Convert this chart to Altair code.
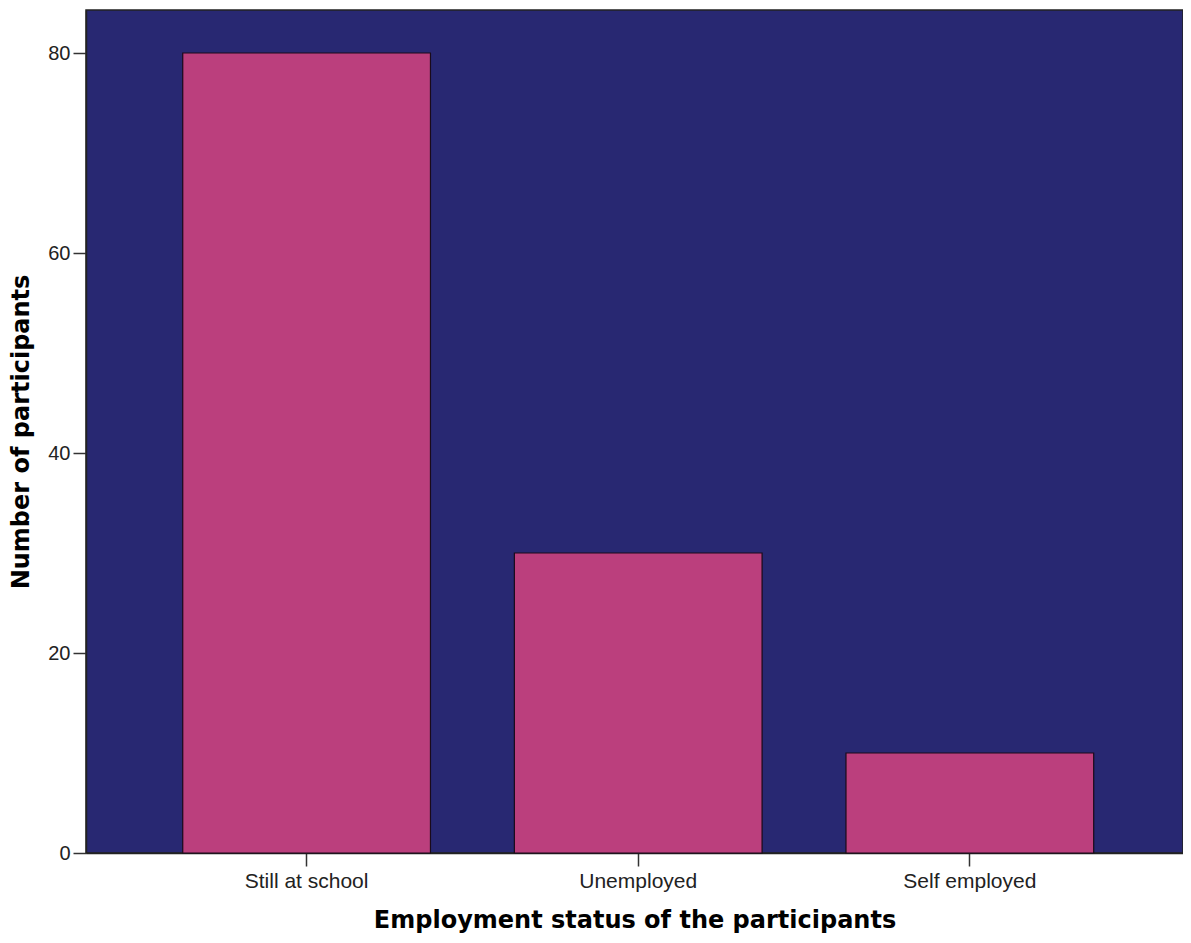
import altair as alt
import pandas as pd

categories = ["Still at school", "Unemployed", "Self employed"]
counts = [80, 30, 10]
y_ticks = [0, 20, 40, 60, 80]

df = pd.DataFrame({"status": categories, "count": counts})

chart = alt.Chart(df).mark_bar(
    color="#bb3f7d", stroke="#1a0a1a", strokeWidth=1.2
).encode(
    x=alt.X(
        "status:N",
        sort=categories,
        scale=alt.Scale(paddingInner=0.253, paddingOuter=0.2805, align=0.52),
        axis=alt.Axis(
            title="Employment status of the participants",
            labelAngle=0,
            tickSize=13,
            labelPadding=4,
            titlePadding=17,
            labelFontSize=21,
        ),
    ),
    y=alt.Y(
        "count:Q",
        scale=alt.Scale(domain=[0, 84.3], nice=False),
        axis=alt.Axis(
            title="Number of participants",
            values=y_ticks,
            tickSize=13,
            labelPadding=3,
            titlePadding=14,
            grid=False,
        ),
    ),
).properties(
    width=1097,
    height=843,
    autosize=alt.AutoSizeParams(type="none"),
    padding={"left": 78, "top": 2, "right": 0, "bottom": 82},
    background="white",
).configure_view(
    fill="#282872", stroke="#222222", strokeWidth=1.5
).configure_axis(
    domainColor="#222222",
    domainWidth=1.5,
    tickColor="#333333",
    tickWidth=1.5,
    labelFont="Liberation Sans",
    labelFontSize=20,
    labelColor="#222222",
    titleFont="DejaVu Sans",
    titleFontSize=24,
    titleFontWeight="bold",
    titleColor="#000000",
)

chart.save("out.html", embed_options={"renderer": "svg", "actions": False})
